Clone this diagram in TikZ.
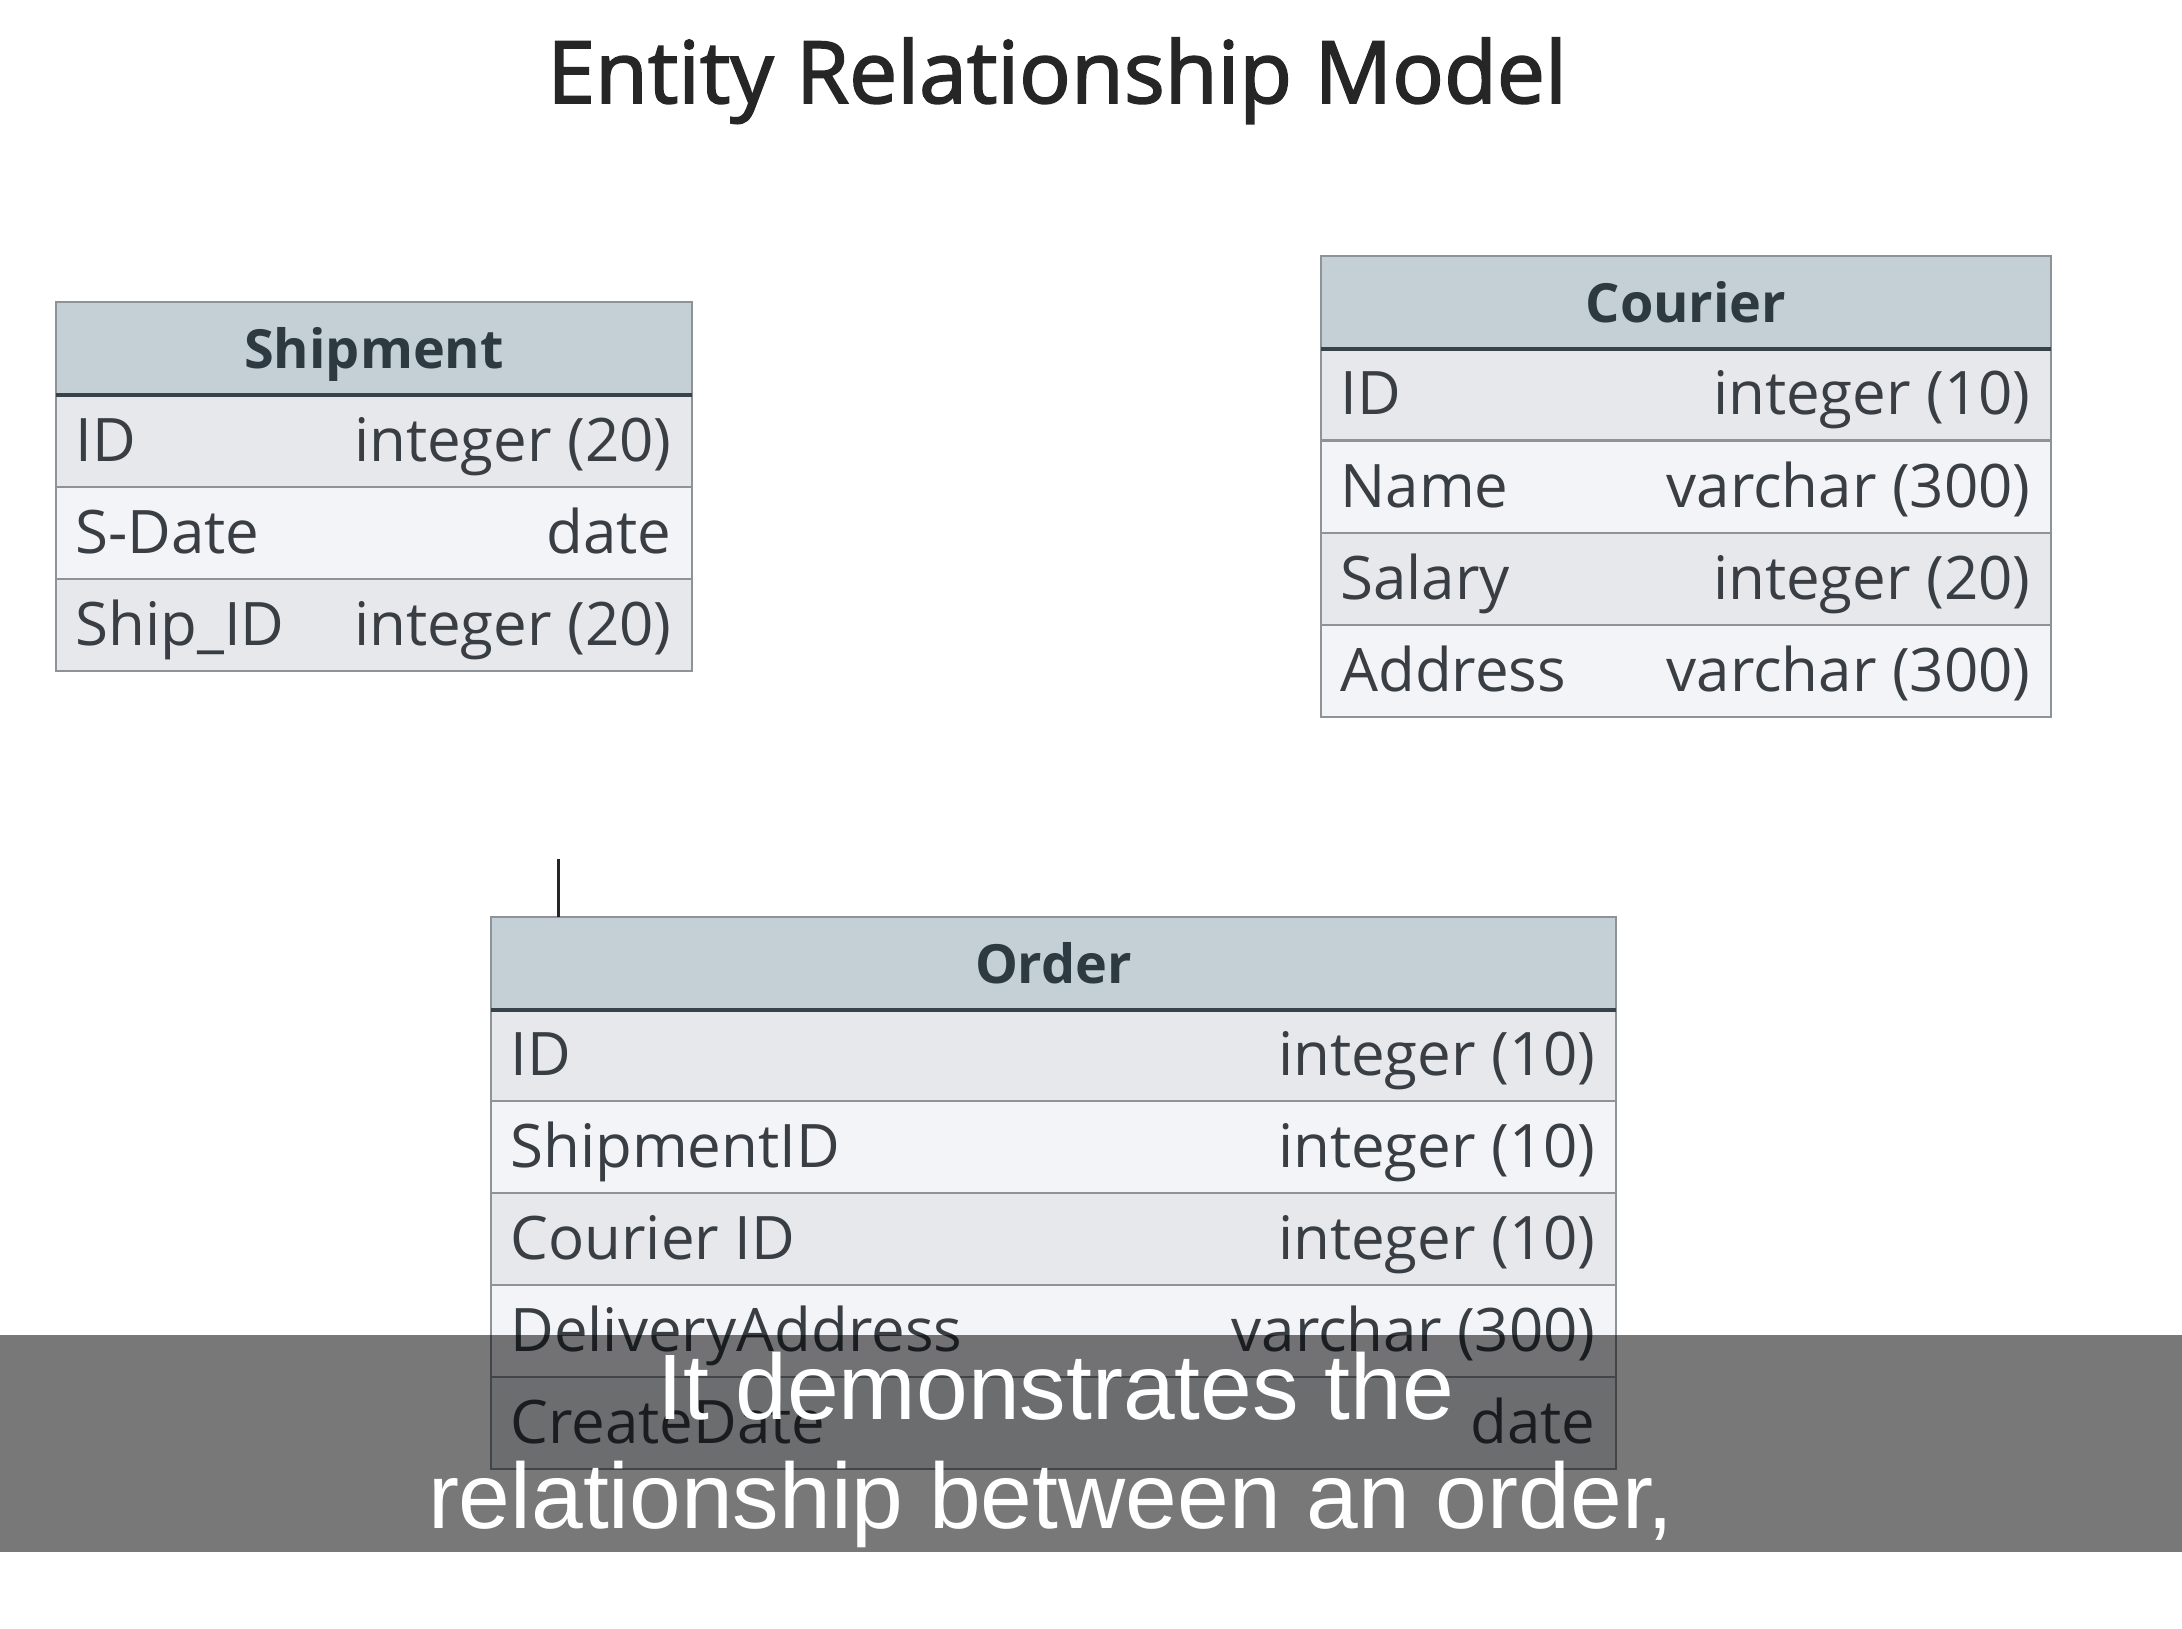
\documentclass[tikz,border=0pt]{standalone}
\usepackage{fontspec}
\setmainfont{Open Sans}
\newfontfamily\capfont{Liberation Sans}
\definecolor{hdrfill}{HTML}{C4D0D5}
\definecolor{rowA}{HTML}{E6E8EC}
\definecolor{rowB}{HTML}{F3F4F7}
\definecolor{bordc}{HTML}{8E9397}
\definecolor{hline}{HTML}{37424A}
\definecolor{txtc}{HTML}{383E43}
\definecolor{hdrtxt}{HTML}{2E3A41}
\tikzset{
  cell/.style={draw=bordc, line width=1pt, minimum height=46pt, inner sep=0pt, outer sep=0pt},
  hdr/.style={draw=bordc, line width=1pt, fill=hdrfill, minimum height=46.5pt, inner sep=0pt, outer sep=0pt,
     text height=19.5pt, text depth=0pt,
     font=\fontsize{27}{30}\selectfont\bfseries, text=hdrtxt},
  lt/.style={anchor=base west, inner sep=0pt, xshift=9.5pt, yshift=-10pt, font=\fontsize{30}{34}\selectfont, text=txtc},
  rt/.style={anchor=base east, inner sep=0pt, xshift=-10pt, yshift=-10pt, font=\fontsize{30}{34}\selectfont, text=txtc},
  hsep/.style={draw=hline, line width=2pt},
  conn/.style={draw=black!85, line width=1.5pt},
  captxt/.style={text=white, inner sep=0pt, font=\capfont\fontsize{46.5}{50}\selectfont}
}
\newcommand\erow[6]{%
  \node[cell, fill=#2, minimum width=#3, anchor=north west] (#1) at (#4) {};
  \node[lt] at (#1.west) {#5};
  \node[rt] at (#1.east) {#6};}
\begin{document}
\begin{tikzpicture}[x=0.5pt, y=-0.5pt]
\useasboundingbox[fill=white] (0,0) rectangle (2182,1628);
% title
\node[inner sep=0pt, text=black!85, font=\fontsize{43}{48}\selectfont\addfontfeature{FakeBold=2}, anchor=base] (title) at (1057,103) {Entity Relationship Model};
% Shipment
\node[hdr, minimum width=318pt, anchor=north west] (ship) at (56,302) {Shipment};
\erow{shipA}{rowA}{318pt}{56,395}{ID}{integer (20)}
\erow{shipB}{rowB}{318pt}{56,487}{S-Date}{date}
\erow{shipC}{rowA}{318pt}{56,579}{Ship\_ID}{integer (20)}
\draw[hsep] (ship.south west) -- (ship.south east);
% Courier
\node[hdr, minimum width=365pt, anchor=north west] (cour) at (1321,256) {Courier};
\erow{courA}{rowA}{365pt}{1321,348}{ID}{integer (10)}
\erow{courB}{rowB}{365pt}{1321,441}{Name}{varchar (300)}
\erow{courC}{rowA}{365pt}{1321,533}{Salary}{integer (20)}
\erow{courD}{rowB}{365pt}{1321,625}{Address}{varchar (300)}
\draw[hsep] (cour.south west) -- (cour.south east);
% Order
\node[hdr, minimum width=562.5pt, anchor=north west] (ord) at (491,917) {Order};
\erow{ordA}{rowA}{562.5pt}{491,1009}{ID}{integer (10)}
\erow{ordB}{rowB}{562.5pt}{491,1101}{ShipmentID}{integer (10)}
\erow{ordC}{rowA}{562.5pt}{491,1193}{Courier ID}{integer (10)}
\erow{ordD}{rowB}{562.5pt}{491,1285}{DeliveryAddress}{varchar (300)}
\erow{ordE}{rowA}{562.5pt}{491,1377}{CreateDate}{date}
\draw[hsep] (ord.south west) -- (ord.south east);
% connector stub
\coordinate (c0) at (558,859);
\draw[conn] (c0) -- (c0 |- ord.north);
% caption band
\fill[black, opacity=0.53] (0,1335) rectangle (2182,1552);
\node[captxt, anchor=base] (cap1) at (1056,1419) {It demonstrates the};
\node[captxt, anchor=base] (cap2) at (1051,1528) {relationship between an order,};
\end{tikzpicture}
\end{document}
